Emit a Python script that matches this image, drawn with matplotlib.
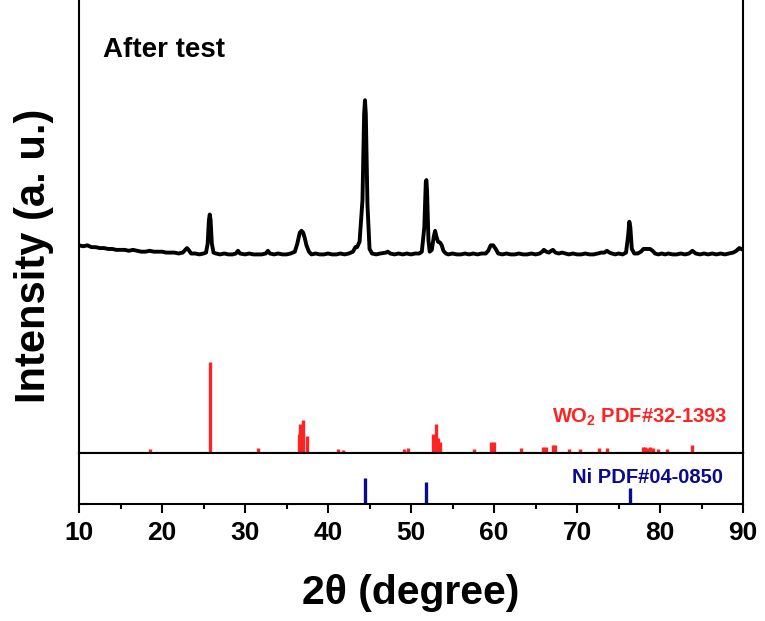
import matplotlib
matplotlib.use("Agg")
import matplotlib.pyplot as plt
from matplotlib.ticker import MultipleLocator

plt.rcParams["font.family"] = ["Liberation Sans", "DejaVu Sans"]
plt.rcParams["font.weight"] = "bold"
plt.rcParams["mathtext.fontset"] = "custom"
plt.rcParams["mathtext.rm"] = "Liberation Sans:bold"
plt.rcParams["mathtext.bf"] = "Liberation Sans:bold"

# measured pattern (after test), intensity in a.u. above background
two_theta = [10.0, 10.5, 11.0, 11.5, 12.0, 12.5, 13.0, 13.5, 14.0, 14.5, 15.0, 15.5, 16.0, 16.5,
             17.0, 17.5, 18.0, 18.5, 19.0, 19.5, 20.0, 20.5, 21.0, 21.5, 22.0, 22.5, 22.8, 23.0,
             23.2, 23.5, 24.0, 24.5, 25.0, 25.3, 25.5, 25.65, 25.75, 25.85, 26.0, 26.2, 26.5,
             27.0, 27.5, 28.0, 28.5, 28.9, 29.15, 29.4, 30.0, 30.5, 31.0, 31.5, 32.0, 32.5,
             32.75, 33.0, 33.5, 34.0, 34.5, 35.0, 35.5, 36.0, 36.3, 36.6, 36.8, 37.0, 37.2,
             37.4, 37.7, 38.0, 38.5, 39.0, 39.5, 40.0, 40.5, 41.0, 41.5, 42.0, 42.5, 43.0,
             43.3, 43.5, 43.8, 44.15, 44.35, 44.45, 44.55, 44.75, 45.0, 45.3, 45.8, 46.3, 47.0,
             47.2, 47.5, 48.0, 48.5, 49.0, 49.5, 50.0, 50.5, 51.0, 51.3, 51.6, 51.78, 51.85,
             51.93, 52.1, 52.25, 52.5, 52.75, 52.9, 53.05, 53.25, 53.5, 53.7, 53.9, 54.2,
             54.5, 55.0, 55.5, 56.0, 56.5, 57.0, 57.5, 58.0, 58.5, 59.0, 59.3, 59.6, 59.9,
             60.2, 60.5, 61.0, 61.5, 62.0, 62.5, 63.0, 63.5, 64.0, 64.5, 65.0, 65.5, 65.8,
             66.0, 66.3, 66.6, 66.9, 67.1, 67.4, 67.8, 68.2, 68.6, 69.0, 69.5, 70.0, 70.5,
             71.0, 71.5, 72.0, 72.5, 72.9, 73.3, 73.6, 73.9, 74.2, 74.6, 75.0, 75.5, 75.9,
             76.15, 76.3, 76.42, 76.6, 76.9, 77.3, 77.7, 78.0, 78.4, 78.8, 79.1, 79.4, 79.8,
             80.2, 80.6, 81.0, 81.5, 82.0, 82.5, 83.0, 83.5, 83.9, 84.3, 84.8, 85.3, 85.8,
             86.3, 86.8, 87.3, 87.8, 88.3, 88.8, 89.2, 89.55, 89.8, 90.0]
intensity = [10, 9, 10, 8, 8, 7, 7, 6, 6, 5, 5, 5, 4, 5,
             4, 3, 3, 4, 3, 3, 3, 2, 2, 2, 1, 2, 5, 7,
             5, 1, 1, 0, 1, 2, 12, 38, 44, 38, 12, 2, 1,
             0, 1, 0, 0, 1, 4, 1, 0, 1, 0, 0, 0, 1,
             4, 1, 0, 1, 0, 0, 1, 3, 12, 24, 26, 24, 18,
             10, 3, 0, 1, 0, 0, 1, 0, 0, 1, 0, 1, 3,
             8, 8, 14, 60, 155, 170, 155, 55, 6, 1, 0, 1, 2,
             3, 1, 0, 1, 0, 1, 0, 1, 1, 3, 30, 80, 82,
             70, 15, 3, 5, 20, 26, 20, 14, 13, 10, 4, 1,
             0, 1, 0, 0, 1, 0, 1, 0, 1, 1, 4, 10, 10,
             6, 1, 0, 1, 0, 0, 1, 0, 0, 1, 0, 1, 3,
             5, 3, 2, 4, 5, 2, 1, 2, 1, 0, 1, 0, 0,
             1, 0, 0, 1, 2, 2, 4, 2, 1, 0, 1, 0, 2,
             20, 36, 30, 6, 1, 1, 3, 6, 6, 6, 4, 1, 0,
             1, 0, 1, 0, 0, 1, 0, 1, 4, 1, 0, 1, 0,
             1, 0, 1, 0, 1, 2, 4, 7, 6, 5]

# WO2 PDF#32-1393 reference lines
wo2_pos = [18.5, 25.78, 31.6, 36.5, 36.65, 37.03, 37.5, 41.2, 41.8, 49.2, 49.6, 52.7, 52.97,
           53.2, 53.5, 57.6, 59.6, 60.0, 63.3, 65.9, 66.3, 67.1, 67.4, 69.0, 70.3, 72.7,
           73.6, 77.9, 78.2, 78.5, 78.8, 79.2, 79.8, 80.8, 83.9]
wo2_int = [4.4, 100, 5, 21, 32, 36, 19, 4.4, 3.3, 4.4, 5.5, 21, 32,
           17, 12, 4.4, 12, 12, 5.5, 6.6, 6.6, 9, 9, 4.4, 4.4, 5.5,
           5.5, 6.6, 6.6, 5.5, 6.6, 5.5, 4.4, 4.4, 9]

# Ni PDF#04-0850 reference lines
ni_pos = [44.5, 51.85, 76.4]
ni_int = [100, 85, 62]

pattern_offset = 219
red = "#FF2323"
navy = "#0B0B8E"

fig = plt.figure(figsize=(7.65, 6.21), dpi=100)
ax = fig.add_axes([0.1033, 0.2705, 0.868, 0.7375])
ax2 = fig.add_axes([0.1033, 0.1884, 0.868, 0.0821], sharex=ax)

ax.plot(two_theta, [v + pattern_offset for v in intensity], color="black", lw=2.8,
        solid_joinstyle="round")
ax.vlines(wo2_pos, 0, wo2_int, color=red, lw=2.4)
ax.set_ylim(0, 505)
ax.set_xlim(10, 90)
ax.spines["top"].set_visible(False)
ax.tick_params(axis="x", which="both", bottom=False, labelbottom=False)
ax.set_yticks([])
ax.text(0.036, 0.865, "After test", transform=ax.transAxes, fontsize=20,
        fontweight="bold", va="baseline", ha="left")
ax.text(0.977, 0.066, r"WO$_\mathbf{2}$ PDF#32-1393", transform=ax.transAxes,
        fontsize=14.5, color=red, fontweight="bold", va="baseline", ha="right")

ax2.vlines(ni_pos, 0, ni_int, color=navy, lw=2.4)
ax2.set_ylim(0, 196)
ax2.set_yticks([])
ax2.xaxis.set_major_locator(MultipleLocator(10))
ax2.xaxis.set_minor_locator(MultipleLocator(5))
ax2.tick_params(axis="x", which="major", direction="out", length=6.5, width=1.5,
                labelsize=19, pad=6)
ax2.tick_params(axis="x", which="minor", direction="out", length=3.5, width=1.5)
for lab in ax2.get_xticklabels():
    lab.set_fontweight("bold")
ax2.text(0.97, 0.41, "Ni PDF#04-0850", transform=ax2.transAxes, fontsize=14.5,
         color=navy, fontweight="bold", va="baseline", ha="right")

for a in (ax, ax2):
    for s in a.spines.values():
        s.set_linewidth(1.5)

fig.text(0.044, 0.588, "Intensity (a. u.)", rotation=90, fontsize=30,
         fontweight="bold", ha="center", va="center")
fig.text(0.537, 0.045, "2θ (degree)", fontsize=29.5, fontweight="bold",
         ha="center", va="center")

fig.savefig("out.png", dpi=100)
